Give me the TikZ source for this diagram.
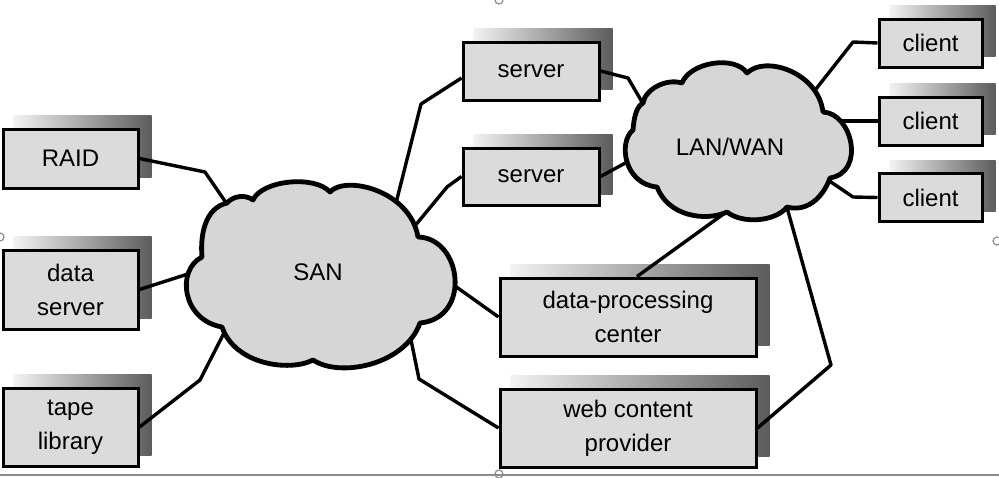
\documentclass[tikz,border=0pt]{standalone}
\usepackage{fontspec}
\setmainfont{Liberation Sans}
\usetikzlibrary{calc}
\pgfdeclarelayer{bg}
\pgfsetlayers{bg,main}
\begin{document}
\begin{tikzpicture}[x=0.5pt,y=-0.5pt,
  box/.style={draw=black, line width=1.5pt, fill=black!14, align=center,
    font=\fontsize{12}{17}\selectfont, inner sep=0pt},
  shadowfill/.style={left color=black!5, right color=black!64},
  link/.style={line width=1.7pt, line join=round},
  cloudline/.style={draw=black, line width=2.4pt, fill=black!16, line join=round},
  label/.style={font=\fontsize{12}{17}\selectfont},
  handle/.style={draw=black!45, line width=0.6pt}]
\useasboundingbox (0,0) rectangle (999,477);

% boxes
\node[box, minimum width=67.5pt, minimum height=29.5pt] (raid) at (70.5,158.5) {RAID};
\node[box, minimum width=67.5pt, minimum height=39.5pt] (ds) at (70.5,289.5) {data\\server};
\node[box, minimum width=67.5pt, minimum height=39pt] (tape) at (70.5,427) {tape\\library};
\node[box, minimum width=68pt, minimum height=29pt] (s1) at (531,71) {server};
\node[box, minimum width=68pt, minimum height=28.5pt] (s2) at (531,176.5) {server};
\node[box, minimum width=128pt, minimum height=39pt] (dpc) at (628,317) {data-processing\\center};
\node[box, minimum width=128pt, minimum height=39pt] (web) at (628,428) {web content\\provider};
\node[box, minimum width=51.5pt, minimum height=24pt] (c1) at (930.5,43) {client};
\node[box, minimum width=51.5pt, minimum height=24pt] (c2) at (930.5,121) {client};
\node[box, minimum width=51.5pt, minimum height=24pt] (c3) at (930.5,197.5) {client};

% clouds
\draw[cloudline] (227,203) .. controls (233,196) and (245,194) .. (253,200)
  .. controls (262,180) and (315,175) .. (330,192)
  .. controls (345,175) and (410,190) .. (418,237)
  .. controls (462,238) and (472,318) .. (420,323)
  .. controls (405,365) and (340,378) .. (313,360)
  .. controls (290,372) and (235,365) .. (222,327)
  .. controls (182,320) and (176,270) .. (202,257)
  .. controls (200,235) and (205,208) .. (227,203) -- cycle;
\node[label] (san) at (318,272) {SAN};

\draw[cloudline] (643,103) .. controls (645,90) and (665,78) .. (682,83)
  .. controls (690,62) and (735,55) .. (747,73)
  .. controls (765,55) and (818,72) .. (823,112)
  .. controls (852,113) and (866,172) .. (830,178)
  .. controls (822,200) and (805,212) .. (787,207)
  .. controls (775,222) and (742,224) .. (727,212)
  .. controls (705,222) and (668,216) .. (657,187)
  .. controls (624,184) and (618,142) .. (633,130)
  .. controls (634,116) and (637,106) .. (643,103) -- cycle;
\node[label] (lan) at (730,147) {LAN/WAN};

% contact points on the clouds
\coordinate (sanA) at (229,207);
\coordinate (sanDS) at (191,273);
\coordinate (sanT) at (224,333);
\coordinate (sanS1) at (396,203);
\coordinate (sanS2) at (414,227);
\coordinate (sanD) at (455,286);
\coordinate (sanW) at (410,335);
\coordinate (lanS1) at (645,107);
\coordinate (lanS2) at (629,161);
\coordinate (lanC1) at (812,94);
\coordinate (lanC2) at (836,121);
\coordinate (lanC3) at (828,180);
\coordinate (lanD) at (729,210);
\coordinate (lanW) at (786,204);

\begin{pgfonlayer}{bg}
  \foreach \n in {raid,ds,tape,s1,s2,dpc,web,c1,c2,c3}
    \shade[shadowfill] ([shift={(6pt,6pt)}]\n.south west) rectangle ([shift={(6pt,6pt)}]\n.north east);
  \draw[link] (raid.east) -- (205,172) -- (sanA);
  \draw[link] (ds.east) -- (sanDS);
  \draw[link] (tape.east) -- (200,380) -- (sanT);
  \draw[link] (sanS1) -- (421,104) -- ([yshift=-3.5pt]s1.west);
  \draw[link] (sanS2) -- (447,187) -- (s2.west);
  \draw[link] (sanD) -- (dpc.west);
  \draw[link] (sanW) -- (419,379) -- (web.west);
  \draw[link] (s1.east) -- (628,78) -- (lanS1);
  \draw[link] (s2.east) -- (lanS2);
  \draw[link] (lanC1) -- (853,42) -- (c1.west);
  \draw[link] (lanC2) -- (c2.west);
  \draw[link] (lanC3) -- (853,197) -- (c3.west);
  \draw[link] (lanD) -- ([xshift=4.5pt]dpc.north);
  \draw[link] (lanW) -- (831,365) -- (web.east);
\end{pgfonlayer}

% frame of the image
\draw[black!45, line width=0.6pt] (0,475) -- (999,475);
\draw[handle] (499,0) circle[radius=4];
\draw[handle] (0,237) circle[radius=4];
\draw[handle] (997,241) circle[radius=4];
\draw[handle] (499,474) circle[radius=4];
\end{tikzpicture}
\end{document}
